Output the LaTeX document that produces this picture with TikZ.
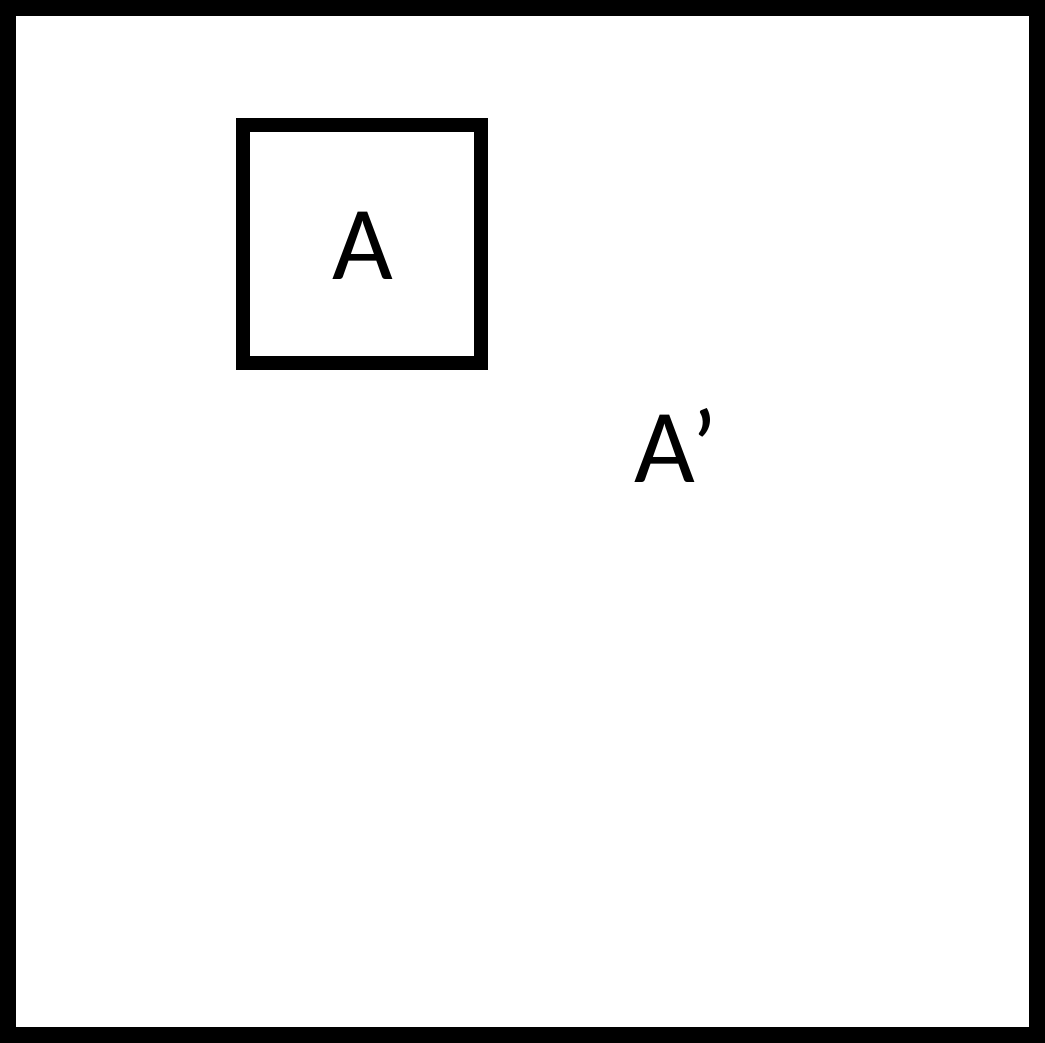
\documentclass[tikz,border=0pt]{standalone}
\usepackage{fontspec}
\setmainfont{Carlito}
\begin{document}
\begin{tikzpicture}[x=1pt,y=-1pt,
  frame/.style={draw=black,line width=16pt},
  boxA/.style={draw=black,line width=14pt},
  lbl/.style={inner sep=0pt,anchor=base west,font=\fontsize{105}{110}\selectfont}]
\useasboundingbox (0,0) rectangle (1045,1043);
\draw[frame] (8,8) rectangle (1037,1035);
\draw[boxA] (243,125) rectangle (481,363);
\node[lbl] (a) at (332,280) {A};
\node[lbl] (ap) at (634,482) {A’};
\end{tikzpicture}
\end{document}
